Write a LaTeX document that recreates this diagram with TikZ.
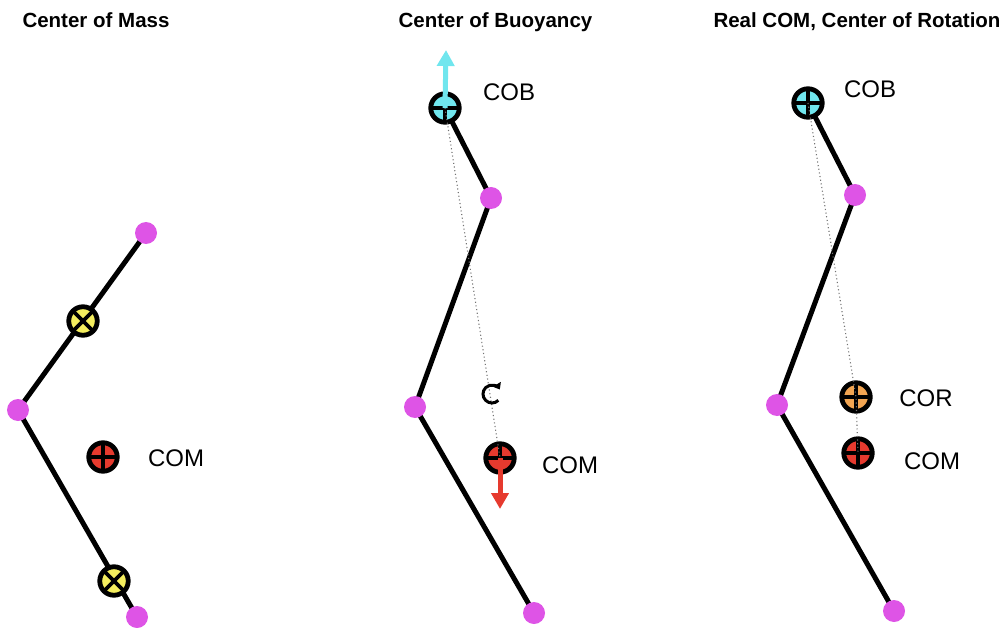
\documentclass[tikz,border=0pt]{standalone}
\usepackage{fontspec}
\setmainfont{Liberation Sans}
\usetikzlibrary{arrows.meta}
\definecolor{jointpink}{RGB}{222,84,230}
\definecolor{massyellow}{RGB}{244,238,94}
\definecolor{comred}{RGB}{230,58,46}
\definecolor{cobcyan}{RGB}{112,230,238}
\definecolor{cororange}{RGB}{242,165,82}

\tikzset{
	title/.style={font=\fontsize{20.5}{24}\selectfont\bfseries, anchor=base, inner sep=0pt},
	marktext/.style={font=\fontsize{24}{28}\selectfont, inner sep=0pt},
	limb/.style={line width=5pt},
	joint/.style={circle, fill=jointpink, minimum size=22pt, inner sep=0pt},
	marker/.style={circle, draw=black, line width=4.8pt, fill=#1, minimum size=28.5pt, inner sep=0pt},
	plusmark/.style={marker=#1, path picture={
		\draw[line width=3.6pt] (path picture bounding box.north) -- (path picture bounding box.south)
			(path picture bounding box.west) -- (path picture bounding box.east);}},
	crossmark/.style={marker=#1, path picture={
		\draw[line width=3.6pt] (path picture bounding box.north west) -- (path picture bounding box.south east)
			(path picture bounding box.south west) -- (path picture bounding box.north east);}},
	guide/.style={black!55, line width=1.1pt, dash pattern=on 1.1pt off 2.6pt},
	force/.style={line width=5pt, -{Triangle[length=16pt,width=17pt]}}
}

\begin{document}
\begin{tikzpicture}[x=1pt, y=-1pt]
	\useasboundingbox (0,0) rectangle (1008,628);

	\foreach \x/\name/\title in {
		96/tmass/{Center of Mass},
		495.5/tbuoy/{Center of Buoyancy},
		857/trot/{Real COM, Center of Rotation}
	}
	{
		\node [title] (\name) at (\x,28) {\title};
	}

	% left: limb with two segment centres
	\coordinate (a1) at (146,233);
	\coordinate (a2) at (18,410);
	\coordinate (a3) at (137,617);
	\draw [limb] (a1) -- (a2) -- (a3);
	\foreach \c in {a1,a2,a3}
		\node [joint] (j\c) at (\c) {};
	\node [crossmark=massyellow] (seg1) at (83,321) {};
	\node [crossmark=massyellow] (seg2) at (114,581) {};
	\node [plusmark=comred] (com1) at (103,457) {};
	\node [marktext] (com1txt) at (176,458) {COM};

	% middle: buoyancy up, weight down
	\coordinate (b0) at (445,108);
	\coordinate (b1) at (491,198);
	\coordinate (b2) at (415,407);
	\coordinate (b3) at (534,613);
	\draw [limb] (b0) -- (b1) -- (b2) -- (b3);
	\foreach \c in {b1,b2,b3}
		\node [joint] (j\c) at (\c) {};
	\node [plusmark=cobcyan] (cob2) at (b0) {};
	\node [plusmark=comred] (com2) at (500,458) {};
	\draw [guide] (cob2.center) -- (com2.center);
	\coordinate (up2) at (446,50);
	\coordinate (down2) at (500,509);
	\draw [force, cobcyan] (cob2.center) -- (up2);
	\draw [force, comred] (com2.center) -- (down2);
	\coordinate (rot2) at (492,394);
	\draw [line width=3pt, -{Triangle[length=6pt,width=9pt]}]
		(rot2) ++(45:9) arc [start angle=45, end angle=330, radius=9];
	\node [marktext] (cob2txt) at (509,92) {COB};
	\node [marktext] (com2txt) at (570,465) {COM};

	% right: centre of rotation between the two
	\coordinate (c0) at (808,103);
	\coordinate (c1) at (855,195);
	\coordinate (c2) at (777,405);
	\coordinate (c3) at (894,611);
	\draw [limb] (c0) -- (c1) -- (c2) -- (c3);
	\foreach \c in {c1,c2,c3}
		\node [joint] (j\c) at (\c) {};
	\node [plusmark=cobcyan] (cob3) at (c0) {};
	\node [plusmark=cororange] (cor3) at (856,397) {};
	\node [plusmark=comred] (com3) at (858,453) {};
	\draw [guide] (cob3.center) -- (cor3.center) -- (com3.center);
	\node [marktext] (cob3txt) at (870,89) {COB};
	\node [marktext] (cor3txt) at (926,398) {COR};
	\node [marktext] (com3txt) at (932,461) {COM};
\end{tikzpicture}
\end{document}
